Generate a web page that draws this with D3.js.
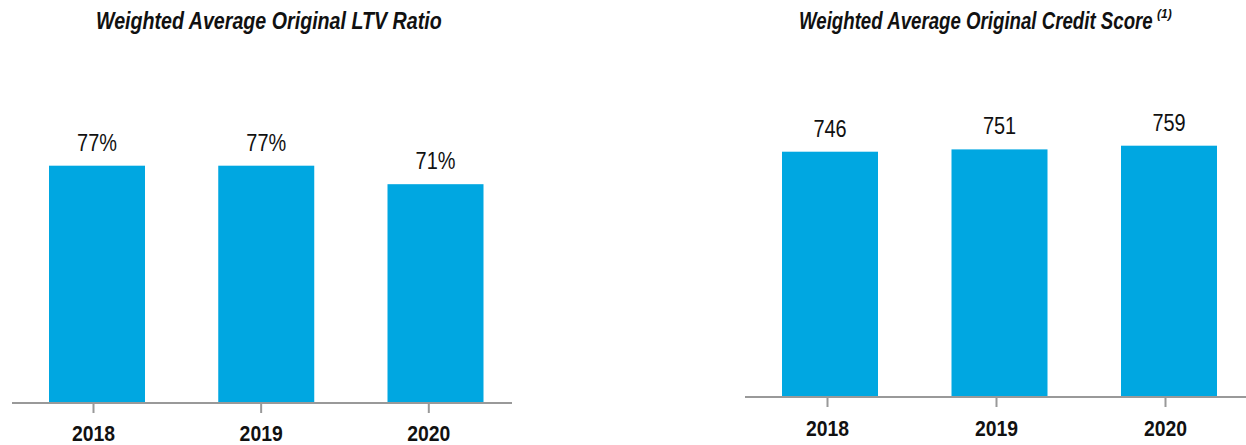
<!DOCTYPE html>
<html>
<head>
<meta charset="utf-8">
<script src="https://cdn.jsdelivr.net/npm/d3@7/dist/d3.min.js"></script>
<style>
  html, body { margin: 0; padding: 0; background: #fff; }
  svg { display: block; }
  text { font-family: "Liberation Sans", Arial, sans-serif; }
</style>
</head>
<body>
<svg id="chart" width="1246" height="445"></svg>
<script>
// Data
const years = ["2018", "2019", "2020"];
const ltvValues = [77, 77, 71];
const ltvLabels = ["77%", "77%", "71%"];
const scoreValues = [746, 751, 759];
const scoreLabels = ["746", "751", "759"];

const BAR_COLOR = "#00a7e1";
const AXIS_COLOR = "#999999";
const BAR_W = 96;

const svg = d3.select("#chart");

// place a text at (x, y) and squeeze it horizontally to mimic a condensed face
function placeCondensed(sel, x, y, factor) {
  sel.each(function (d, i) {
    const el = d3.select(this);
    const px = typeof x === "function" ? x(d, i) : x;
    const py = typeof y === "function" ? y(d, i) : y;
    const f = typeof factor === "function" ? factor.call(this) : factor;
    el.attr("x", 0).attr("y", 0)
      .attr("transform", `translate(${px},${py}) scale(${f},1)`);
  });
}

function drawPanel(cfg) {
  const g = svg.append("g");

  // title
  const title = g.append("text")
    .attr("text-anchor", "start")
    .style("font-weight", "bold")
    .style("font-style", "italic")
    .style("font-size", "23px")
    .attr("fill", "#111")
    .text(cfg.title);
  title.call(placeCondensed, cfg.titleX, 29,
    function () { return cfg.titleWidth / this.getComputedTextLength(); });
  if (cfg.note) {
    g.append("text")
      .attr("x", cfg.titleX + cfg.titleWidth + 4)
      .attr("y", 18)
      .attr("text-anchor", "start")
      .style("font-weight", "bold")
      .style("font-style", "italic")
      .style("font-size", "12px")
      .attr("fill", "#111")
      .text(cfg.note);
  }

  const y = d3.scaleLinear().domain(cfg.yDomain).range([cfg.baseY, cfg.topY]);
  const xBar = d3.scalePoint().domain(years).range(cfg.barRange);
  const xAxis = d3.scalePoint().domain(years).range(cfg.tickRange);

  // bars
  g.selectAll("rect.bar")
    .data(years)
    .join("rect")
    .attr("class", "bar")
    .attr("x", d => xBar(d) - BAR_W / 2)
    .attr("width", BAR_W)
    .attr("y", (d, i) => y(cfg.values[i]))
    .attr("height", (d, i) => cfg.baseY - y(cfg.values[i]))
    .attr("fill", BAR_COLOR);

  // value labels
  g.selectAll("text.val")
    .data(years)
    .join("text")
    .attr("class", "val")
    .attr("text-anchor", "middle")
    .style("font-size", "24px")
    .attr("fill", "#111")
    .text((d, i) => cfg.labels[i])
    .call(placeCondensed, d => xBar(d), (d, i) => y(cfg.values[i]) - 15, 0.83);

  // x axis
  const axis = g.append("g")
    .attr("transform", `translate(0,${cfg.baseY})`)
    .call(d3.axisBottom(xAxis).tickSize(10).tickSizeOuter(0).tickPadding(0));
  axis.select(".domain").remove();
  axis.insert("line", ":first-child")
    .attr("x1", cfg.axisX[0]).attr("x2", cfg.axisX[1])
    .attr("y1", 0).attr("y2", 0)
    .attr("stroke", AXIS_COLOR).attr("stroke-width", 2);
  axis.selectAll(".tick line").attr("stroke", AXIS_COLOR).attr("stroke-width", 2);
  axis.selectAll(".tick text")
    .attr("dy", null)
    .attr("fill", "#111")
    .style("font-family", "\"Liberation Sans\", Arial, sans-serif")
    .style("font-weight", "bold")
    .style("font-size", "22px")
    .call(placeCondensed, 0, cfg.labelDrop, 0.88);
}

drawPanel({
  title: "Weighted Average Original LTV Ratio",
  titleX: 96,
  titleWidth: 346,
  values: ltvValues,
  labels: ltvLabels,
  yDomain: [0, 77],
  baseY: 403,
  topY: 165.7,
  barRange: [97, 435.5],
  tickRange: [93, 428.3],
  axisX: [12, 512],
  labelDrop: 38
});

drawPanel({
  title: "Weighted Average Original Credit Score",
  note: "(1)",
  titleX: 799,
  titleWidth: 354,
  values: scoreValues,
  labels: scoreLabels,
  yDomain: [215, 759],
  baseY: 397,
  topY: 145.7,
  barRange: [830, 1169],
  tickRange: [827, 1165],
  axisX: [745, 1246],
  labelDrop: 39
});
</script>
</body>
</html>
